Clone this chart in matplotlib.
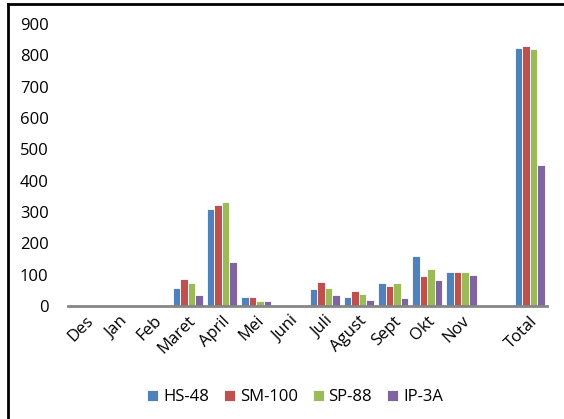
import numpy as np
import matplotlib.pyplot as plt
from matplotlib.lines import Line2D

plt.rcParams['font.family'] = ['Open Sans', 'DejaVu Sans']

bulan = ['Des', 'Jan', 'Feb', 'Maret', 'April', 'Mei', 'Juni', 'Juli',
         'Agust', 'Sept', 'Okt', 'Nov', '', 'Total']
hs48 = [0, 0, 0, 59, 309, 28, 1, 55, 28, 74, 161, 110, 0, 825]
sm100 = [0, 0, 0, 85, 321, 30, 4, 78, 48, 64, 97, 110, 0, 829]
sp88 = [0, 0, 0, 72, 332, 15, 1, 59, 39, 72, 119, 110, 0, 819]
ip3a = [0, 0, 0, 36, 139, 15, 1, 35, 19, 27, 84, 99, 0, 449]

seri = [('HS-48', hs48, '#4F81BD'), ('SM-100', sm100, '#C0504D'),
        ('SP-88', sp88, '#9BBB59'), ('IP-3A', ip3a, '#8064A2')]

fig = plt.figure(figsize=(5.64, 4.19), dpi=100)
ax = fig.add_axes([68/564, 1-306/419, (547-68)/564, (306-24)/419])

x = np.arange(len(bulan))
w = 0.22
for i, (nama, vals, warna) in enumerate(seri):
    ax.bar(x + (i - 1.5)*w, vals, w, color=warna, edgecolor='white',
           linewidth=0.6, label=nama)

ax.set_xlim(-0.5, len(bulan) - 0.5)
ax.set_ylim(0, 900)
ax.set_yticks(range(0, 901, 100))
ax.set_xticks(x)
ax.set_xticklabels(bulan, rotation=45, ha='right', rotation_mode='anchor')
ax.tick_params(axis='both', length=0, labelsize=12)
ax.tick_params(axis='y', pad=14)
ax.tick_params(axis='x', pad=5)
for s in ['top', 'right', 'left']:
    ax.spines[s].set_visible(False)
ax.spines['bottom'].set_color('#868686')
ax.spines['bottom'].set_linewidth(2)

fig.legend(loc='center', bbox_to_anchor=(295/564, 1-397/419), ncol=4,
           frameon=False, fontsize=12, handlelength=0.65, handleheight=0.65,
           handletextpad=0.3, columnspacing=0.9)

fig.add_artist(Line2D([8/564, 8/564], [0, 1-4/419], color='black', lw=2))
fig.add_artist(Line2D([8/564, 1], [1-4/419, 1-4/419], color='black', lw=2))

fig.savefig('out.png', dpi=100)
